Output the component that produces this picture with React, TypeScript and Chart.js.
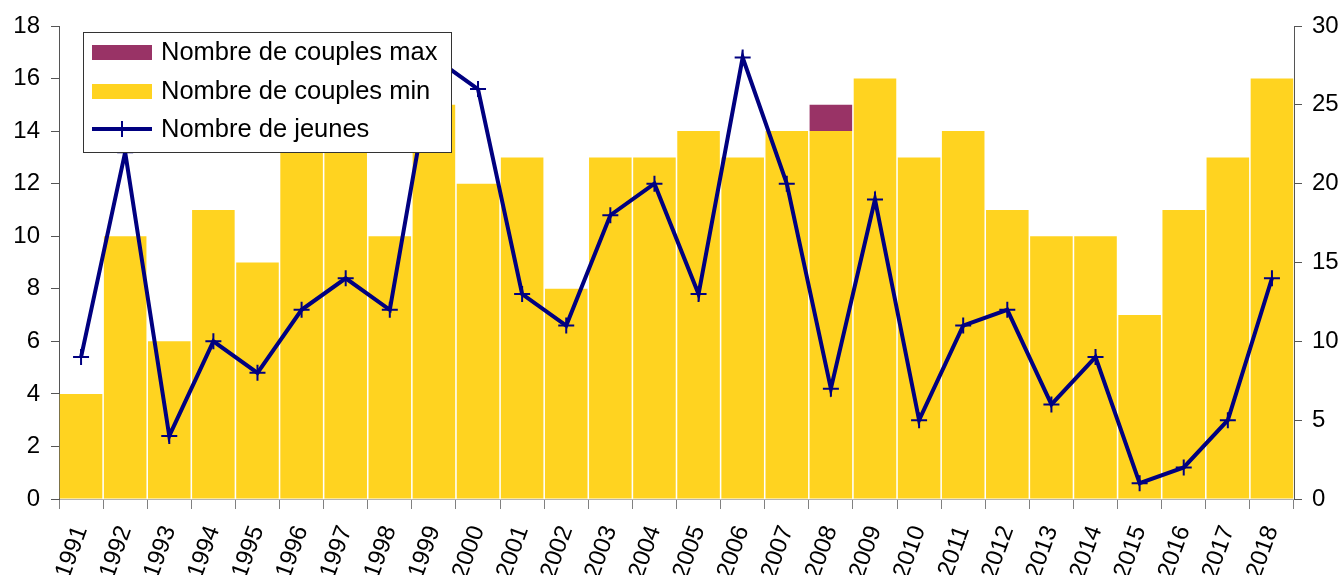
import React, { useEffect, useRef } from 'react';
import { Chart, registerables } from 'chart.js';

Chart.register(...registerables);

const FONT = '"Liberation Sans", Arial, sans-serif';

const years = ['1991', '1992', '1993', '1994', '1995', '1996', '1997', '1998', '1999', '2000', '2001', '2002', '2003', '2004', '2005', '2006', '2007', '2008', '2009', '2010', '2011', '2012', '2013', '2014', '2015', '2016', '2017', '2018'];
const couplesMin = [4, 10, 6, 11, 9, 14, 14, 10, 15, 12, 13, 8, 13, 13, 14, 13, 14, 14, 16, 13, 14, 11, 10, 10, 7, 11, 13, 16];
const couplesMax = [4, 10, 6, 11, 9, 14, 14, 10, 15, 12, 13, 8, 13, 13, 14, 13, 14, 15, 16, 13, 14, 11, 10, 10, 7, 11, 13, 16];
const jeunes = [9, 22, 4, 10, 8, 12, 14, 12, 28, 26, 13, 11, 18, 20, 13, 28, 20, 7, 19, 5, 11, 12, 6, 9, 1, 2, 5, 14];
const leftTicks = [0, 2, 4, 6, 8, 10, 12, 14, 16, 18];
const rightTicks = [0, 5, 10, 15, 20, 25, 30];

const COL_MAX = '#993366';
const COL_MIN = '#FFD320';
const COL_LINE = '#000080';

const legendItems = [
  { label: 'Nombre de couples max', type: 'box', color: COL_MAX },
  { label: 'Nombre de couples min', type: 'box', color: COL_MIN },
  { label: 'Nombre de jeunes', type: 'line', color: COL_LINE },
];

const boxLegend = {
  id: 'boxLegend',
  afterDraw(chart: any) {
    const ctx = chart.ctx;
    const x0 = 83, y0 = 32, w = 368, h = 120;
    ctx.save();
    ctx.fillStyle = '#ffffff';
    ctx.fillRect(x0, y0, w, h);
    ctx.strokeStyle = '#333333';
    ctx.lineWidth = 1;
    ctx.strokeRect(x0 + 0.5, y0 + 0.5, w, h);
    ctx.font = `25.5px ${FONT}`;
    ctx.textBaseline = 'middle';
    ctx.textAlign = 'left';
    const rows = [52, 91, 129];
    legendItems.forEach((it, i) => {
      const cy = rows[i];
      if (it.type === 'box') {
        ctx.fillStyle = it.color;
        ctx.fillRect(92, cy - 7, 60, 15);
      } else {
        ctx.strokeStyle = it.color;
        ctx.lineWidth = 4;
        ctx.beginPath();
        ctx.moveTo(92, cy);
        ctx.lineTo(152, cy);
        ctx.stroke();
        ctx.lineWidth = 2;
        ctx.beginPath();
        ctx.moveTo(122, cy - 8);
        ctx.lineTo(122, cy + 8);
        ctx.stroke();
      }
      ctx.fillStyle = '#000000';
      ctx.fillText(it.label, 161, cy + 1);
    });
    ctx.restore();
  },
};

export default function App() {
  const ref = useRef<HTMLCanvasElement | null>(null);
  useEffect(() => {
    document.body.style.margin = '0';
    const extra = couplesMax.map((v, i) => v - couplesMin[i]);
    const chart = new Chart(ref.current as HTMLCanvasElement, {
      type: 'bar',
      data: {
        labels: years,
        datasets: [
          {
            type: 'line',
            label: 'Nombre de jeunes',
            data: jeunes,
            yAxisID: 'y1',
            borderColor: COL_LINE,
            backgroundColor: COL_LINE,
            borderWidth: 4,
            pointStyle: 'cross',
            pointRadius: 8,
            pointBorderWidth: 2,
            pointBorderColor: COL_LINE,
            tension: 0,
            order: 0,
          } as any,
          {
            type: 'bar',
            label: 'Nombre de couples min',
            data: couplesMin,
            yAxisID: 'y',
            backgroundColor: COL_MIN,
            barPercentage: 0.965,
            categoryPercentage: 1,
            stack: 's',
            order: 1,
          },
          {
            type: 'bar',
            label: 'Nombre de couples max',
            data: extra,
            yAxisID: 'y',
            backgroundColor: COL_MAX,
            barPercentage: 0.965,
            categoryPercentage: 1,
            stack: 's',
            order: 1,
          },
        ],
      },
      options: {
        animation: false,
        responsive: false,
        layout: { padding: { top: 26, left: 0, right: 0, bottom: 0 } },
        plugins: { legend: { display: false }, tooltip: { enabled: false } },
        scales: {
          x: {
            stacked: true,
            grid: { offset: true, drawOnChartArea: false, drawTicks: true, tickLength: 10, color: '#808080' },
            border: { color: '#b3b3b3', width: 1 },
            ticks: {
              color: '#000',
              font: { family: FONT, size: 24 },
              minRotation: 70,
              maxRotation: 70,
              autoSkip: false,
              padding: 13,
              labelOffset: 0,
            },
            afterFit: (s: any) => { s.height = 76; },
          },
          y: {
            position: 'left',
            stacked: true,
            min: 0,
            max: 18,
            afterBuildTicks: (s: any) => { s.ticks = leftTicks.map((v) => ({ value: v })); },
            grid: { drawOnChartArea: false, drawTicks: true, tickLength: 8, color: '#555' },
            border: { color: '#555', width: 1 },
            ticks: { color: '#000', font: { family: FONT, size: 24 }, padding: 11 },
            afterFit: (s: any) => { s.width = 59; },
          },
          y1: {
            position: 'right',
            min: 0,
            max: 30,
            afterBuildTicks: (s: any) => { s.ticks = rightTicks.map((v) => ({ value: v })); },
            grid: { drawOnChartArea: false, drawTicks: true, tickLength: 8, color: '#555' },
            border: { color: '#555', width: 1 },
            ticks: { color: '#000', font: { family: FONT, size: 24 }, padding: 10 },
            afterFit: (s: any) => { s.width = 50; },
          },
        },
      },
      plugins: [boxLegend],
    });
    return () => chart.destroy();
  }, []);
  return (
    <div style={{ position: 'relative', width: 1344, height: 575 }}>
      <canvas ref={ref} width={1344} height={575} style={{ display: 'block' }} />
    </div>
  );
}
